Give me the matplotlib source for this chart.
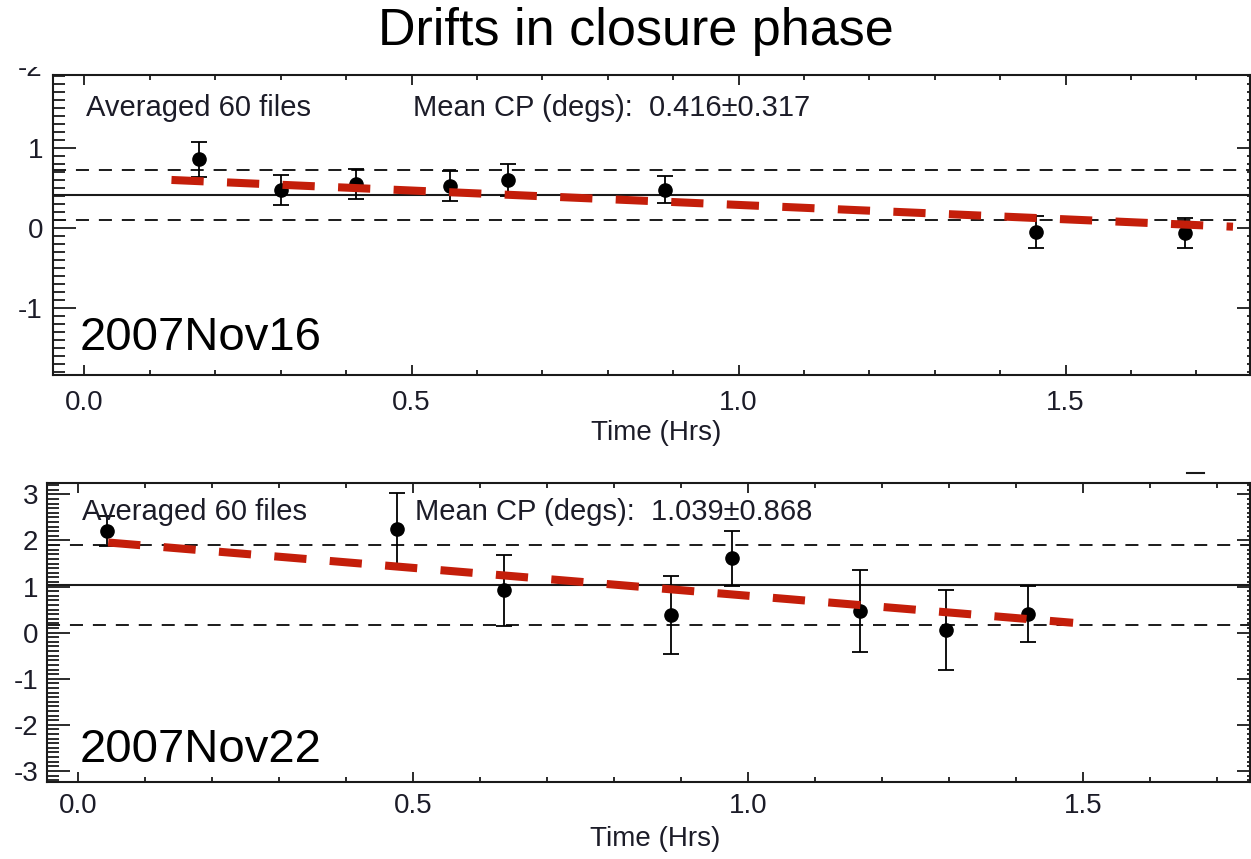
import numpy as np
import matplotlib
matplotlib.use("Agg")
import matplotlib.pyplot as plt
from matplotlib.ticker import MultipleLocator, FormatStrFormatter
from matplotlib.lines import Line2D
from matplotlib.patches import Rectangle

plt.rcParams['font.family'] = ['Liberation Sans', 'DejaVu Sans']
plt.rcParams['axes.unicode_minus'] = False

# ---- 2007 Nov 16 ----
time_nov16 = [0.175, 0.301, 0.415, 0.559, 0.648, 0.887, 1.455, 1.683]
cp_nov16 = [0.86, 0.48, 0.55, 0.53, 0.60, 0.48, -0.05, -0.06]
err_nov16 = [0.22, 0.19, 0.19, 0.19, 0.20, 0.17, 0.20, 0.19]
mean_nov16, sd_nov16 = 0.416, 0.317
fit_nov16 = {"intercept": 0.652, "slope": -0.36, "t0": 0.133, "t1": 1.756}

# ---- 2007 Nov 22 ----
time_nov22 = [0.044, 0.476, 0.635, 0.885, 0.976, 1.167, 1.296, 1.418]
cp_nov22 = [2.20, 2.24, 0.92, 0.38, 1.61, 0.47, 0.06, 0.40]
err_nov22 = [0.33, 0.80, 0.77, 0.85, 0.59, 0.88, 0.86, 0.61]
mean_nov22, sd_nov22 = 1.039, 0.868
fit_nov22 = {"intercept": 2.01, "slope": -1.21, "t0": 0.045, "t1": 1.485}

n_files = 60
TEXT_C = '#1c1c28'
LINE_C = '#1a1a1a'
RED = '#c41e0a'

W, H = 1251, 859
fig = plt.figure(figsize=(W / 100, H / 100), dpi=100)


def px_axes(l, t, r, b):
    return [l / W, 1 - b / H, (r - l) / W, (b - t) / H]


def draw_panel(ax, t, cp, err, mean, sd, fit, xlim, ylim, xpad, ypad):
    ax.set_xlim(*xlim)
    ax.set_ylim(*ylim)
    for s in ax.spines.values():
        s.set_linewidth(1.5)
        s.set_color(LINE_C)

    ax.xaxis.set_major_locator(MultipleLocator(0.5))
    ax.xaxis.set_minor_locator(MultipleLocator(0.1))
    ax.xaxis.set_major_formatter(FormatStrFormatter('%.1f'))
    ax.yaxis.set_major_locator(MultipleLocator(1))
    ax.yaxis.set_minor_locator(MultipleLocator(0.1))

    ax.tick_params(axis='x', which='both', direction='in', top=True, bottom=True,
                   width=1.3, color=LINE_C, labelsize=20, labelcolor=TEXT_C, pad=xpad)
    ax.tick_params(axis='x', which='major', length=7)
    ax.tick_params(axis='x', which='minor', length=3.6)
    ax.tick_params(axis='y', which='both', direction='in', left=True, right=False,
                   width=1.3, color=LINE_C, labelsize=20, labelcolor=TEXT_C, pad=ypad)
    ax.tick_params(axis='y', which='major', length=16.5)
    ax.tick_params(axis='y', which='minor', length=8.6)

    # right-hand ticks, shorter than the left ones
    axr = ax.twinx()
    axr.set_ylim(*ylim)
    axr.yaxis.set_major_locator(MultipleLocator(1))
    axr.yaxis.set_minor_locator(MultipleLocator(0.1))
    axr.tick_params(axis='y', which='both', direction='in', labelright=False,
                    width=1.3, color=LINE_C)
    axr.tick_params(axis='y', which='major', length=9.4)
    axr.tick_params(axis='y', which='minor', length=2.5)
    for s in axr.spines.values():
        s.set_visible(False)

    # mean and +/- 1 sigma
    ax.axhline(mean, color=LINE_C, lw=1.5, zorder=2)
    for v in (mean - sd, mean + sd):
        ax.axhline(v, color=LINE_C, lw=1.4, ls=(0, (6.7, 5.1)), zorder=2)

    ax.errorbar(t, cp, yerr=err, fmt='o', color='black', ms=9.5, capsize=5.8,
                elinewidth=1.3, capthick=1.3, zorder=3)

    tf = np.array([fit["t0"], fit["t1"]])
    ax.plot(tf, fit["intercept"] + fit["slope"] * tf, color=RED, lw=5.8,
            dashes=(4.0, 2.9), dash_capstyle='butt', zorder=4)

    return ax


# top panel: 2007Nov16
ax1 = fig.add_axes(px_axes(52.7, 75, 1250, 375))
draw_panel(ax1, time_nov16, cp_nov16, err_nov16, mean_nov16, sd_nov16, fit_nov16,
           (-0.0486, 1.782), (-1.834, 1.916), xpad=11, ypad=7)
ax1.text(0.0278, 0.89, f'Averaged {n_files} files', transform=ax1.transAxes,
         fontsize=21, color=TEXT_C, va='center', ha='left')
ax1.text(0.301, 0.89, f'Mean CP (degs):  {mean_nov16:.3f}\u00b1{sd_nov16:.3f}',
         transform=ax1.transAxes, fontsize=21, color=TEXT_C, va='center', ha='left')
ax1.text(0.0228, 0.0833, '2007Nov16', transform=ax1.transAxes, fontsize=34,
         color='black', va='baseline', ha='left')
ax1.set_xlabel('Time (Hrs)', fontsize=20, color=TEXT_C, va='top')
ax1.xaxis.set_label_coords(0.504, -0.15)

# bottom panel: 2007Nov22
ax2 = fig.add_axes(px_axes(46.7, 483.3, 1250, 782.3))
draw_panel(ax2, time_nov22, cp_nov22, err_nov22, mean_nov22, sd_nov22, fit_nov22,
           (-0.0467, 1.749), (-3.247, 3.24), xpad=8, ypad=6)
ax2.text(0.0293, 0.905, f'Averaged {n_files} files', transform=ax2.transAxes,
         fontsize=21, color=TEXT_C, va='center', ha='left')
ax2.text(0.306, 0.905, f'Mean CP (degs):  {mean_nov22:.3f}\u00b1{sd_nov22:.3f}',
         transform=ax2.transAxes, fontsize=21, color=TEXT_C, va='center', ha='left')
ax2.text(0.0277, 0.068, '2007Nov22', transform=ax2.transAxes, fontsize=34,
         color='black', va='baseline', ha='left')
ax2.set_xlabel('Time (Hrs)', fontsize=20, color=TEXT_C, va='top')
ax2.xaxis.set_label_coords(0.506, -0.146)

# clipped tick label left over from a panel above, and a stray tick mark
fig.text(42 / W, 1 - 76 / H, '-2', fontsize=20, color=TEXT_C, ha='right', va='baseline')
fig.add_artist(Rectangle((0, 1 - 67 / H), 50 / W, 67 / H, transform=fig.transFigure,
                         facecolor='white', edgecolor='none', zorder=5))
fig.add_artist(Line2D([1187 / W, 1204 / W], [1 - 473 / H, 1 - 473 / H],
                      transform=fig.transFigure, color=LINE_C, lw=1.5))

fig.text(636 / W, 1 - 45 / H, 'Drifts in closure phase', fontsize=37.5, color='black',
         ha='center', va='baseline', zorder=6)

fig.savefig('out.png', dpi=100)
